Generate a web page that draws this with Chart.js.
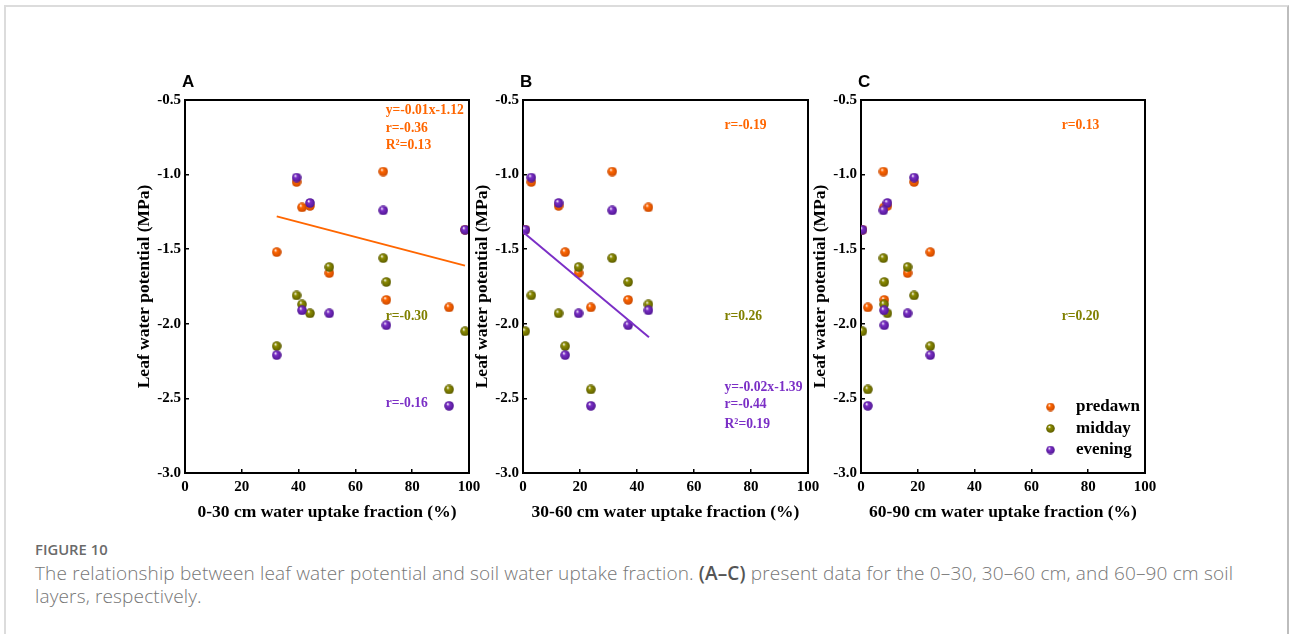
<!DOCTYPE html>
<html>
<head>
<meta charset="utf-8">
<script src="https://cdn.jsdelivr.net/npm/chart.js@4.4.1/dist/chart.umd.min.js"></script>
<style>
  body { margin: 0; background: #fff; width: 1290px; height: 634px; overflow: hidden; position: relative; }
  .frame { position: absolute; left: 4px; top: 5px; width: 1281px; height: 700px;
           border: 2px solid #dcdcdc; border-right-color: #bdbdbd; border-bottom: none; }
  canvas { position: absolute; }
  .cap-head { position: absolute; left: 35px; top: 541px; font: 600 14.8px/16px "Open Sans"; color: #6a6a6a; }
  .cap { position: absolute; left: 35px; top: 562px; font: 300 19px/23px "Open Sans"; letter-spacing: 0.15px; color: #767676; white-space: nowrap; }
  .cap b { color: #555; font-weight: 600; }
</style>
</head>
<body>
<div class="frame"></div>
<canvas id="panelA" width="364" height="470" style="left:125px;top:60px"></canvas>
<canvas id="panelB" width="365" height="470" style="left:463px;top:60px"></canvas>
<canvas id="panelC" width="364" height="470" style="left:801px;top:60px"></canvas>
<div class="cap-head">FIGURE 10</div>
<div class="cap">The relationship between leaf water potential and soil water uptake fraction. <b>(A–C)</b> present data for the 0–30, 30–60 cm, and 60–90 cm soil<br>layers, respectively.</div>

<script>
// axis ticks
const xTicks = [0, 20, 40, 60, 80, 100];
const yTicks = [-3.0, -2.5, -2.0, -1.5, -1.0, -0.5];

// water uptake fraction (%) of each layer, one value per observation
const uptake0to30 = [32.3, 39.3, 41.2, 44.0, 50.8, 69.8, 70.9, 93.0, 98.6];
const uptake30to60 = [14.8, 2.9, 44.0, 12.5, 19.5, 31.3, 36.9, 23.8, 0.8];
const uptake60to90 = [24.4, 18.7, 8.1, 9.3, 16.4, 7.9, 8.2, 2.4, 0.5];

// leaf water potential (MPa)
const predawn = [-1.52, -1.05, -1.22, -1.21, -1.66, -0.98, -1.84, -1.89, -1.37];
const midday = [-2.15, -1.81, -1.87, -1.93, -1.62, -1.56, -1.72, -2.44, -2.05];
const evening = [-2.21, -1.02, -1.91, -1.19, -1.93, -1.24, -2.01, -2.55, -1.37];

// fitted lines (end points)
const fitAX = [32.3, 98.6];
const fitAY = [-1.28, -1.61];
const fitBX = [0.3, 44.2];
const fitBY = [-1.39, -2.09];

const serif = '"Liberation Serif", "Times New Roman", serif';
const ORANGE = '#ff6600';
const OLIVE = '#8c8c00';
const PURPLE = '#7b2fc6';

// little shaded balls, like the original markers
function ball(color, dark, size) {
  const c = document.createElement('canvas');
  c.width = size; c.height = size;
  const g = c.getContext('2d');
  const r = size / 2;
  const grad = g.createRadialGradient(r * 0.7, r * 0.6, r * 0.05, r, r, r);
  grad.addColorStop(0, '#ffffff');
  grad.addColorStop(0.3, color);
  grad.addColorStop(1, dark);
  g.fillStyle = grad;
  g.beginPath();
  g.arc(r, r, r - 0.2, 0, Math.PI * 2);
  g.fill();
  return c;
}

const series = [
  { label: 'predawn', values: predawn, color: ORANGE, dark: '#c84800', order: 3 },
  { label: 'midday', values: midday, color: OLIVE, dark: '#5a5a00', order: 2 },
  { label: 'evening', values: evening, color: PURPLE, dark: '#4e1590', order: 1 }
];
series.forEach(s => {
  s.ball = ball(s.color, s.dark, 10);
  s.legendBall = ball(s.color, s.dark, 9);
});

// frame, panel letter, r / equation notes and the legend
const panelDecor = {
  id: 'panelDecor',
  afterDraw(chart, args, opts) {
    const { ctx, chartArea: a, scales } = chart;
    ctx.save();
    ctx.strokeStyle = '#000';
    ctx.lineWidth = 2;
    ctx.beginPath();
    ctx.moveTo(a.left - 1, a.top);
    ctx.lineTo(a.right, a.top);
    ctx.lineTo(a.right, a.bottom + 1);
    ctx.stroke();

    ctx.fillStyle = '#000';
    ctx.font = 'bold 17px "Liberation Sans", Arial, sans-serif';
    ctx.textAlign = 'left';
    ctx.textBaseline = 'alphabetic';
    ctx.fillText(opts.letter, a.left - 3, a.top - 13);

    ctx.font = 'bold 13.6px ' + serif;
    ctx.textBaseline = 'middle';
    opts.notes.forEach(n => {
      ctx.fillStyle = n.color;
      ctx.fillText(n.text, scales.x.getPixelForValue(n.x), scales.y.getPixelForValue(n.y));
    });

    if (opts.legend) {
      ctx.font = 'bold 17px ' + serif;
      ctx.fillStyle = '#000';
      series.forEach((s, i) => {
        const y = a.bottom - 66 + i * 21.5;
        ctx.drawImage(s.legendBall, a.right - 99, y - 4.5);
        ctx.fillText(s.label, a.right - 69, y);
      });
    }
    ctx.restore();
  }
};

function makePanel(id, xs, letter, xTitle, notes, fit, legend) {
  const datasets = series.map(s => ({
    label: s.label,
    data: xs.map((x, i) => ({ x: x, y: s.values[i] })),
    pointStyle: s.ball,
    order: s.order,
    showLine: false
  }));
  if (fit) {
    datasets.push({
      label: 'fit',
      data: fit.x.map((x, i) => ({ x: x, y: fit.y[i] })),
      showLine: true,
      pointRadius: 0,
      borderColor: fit.color,
      borderWidth: 2,
      order: 0
    });
  }
  const tickFont = { family: serif, size: 15, weight: 'bold' };
  const titleFont = { family: serif, size: 17.5, weight: 'bold' };
  new Chart(document.getElementById(id), {
    type: 'scatter',
    data: { datasets: datasets },
    options: {
      responsive: false,
      animation: false,
      layout: { padding: { top: 40, right: 20, left: 0, bottom: 0 } },
      plugins: {
        legend: { display: false },
        tooltip: { enabled: false },
        panelDecor: { letter: letter, notes: notes, legend: legend }
      },
      scales: {
        x: {
          type: 'linear', min: 0, max: 100,
          afterBuildTicks: s => { s.ticks = xTicks.map(v => ({ value: v })); },
          afterFit: s => { s.height = 57; s.paddingLeft = 0; s.paddingRight = 0; },
          ticks: { font: tickFont, color: '#000', padding: 9, maxRotation: 0, autoSkip: false },
          grid: { drawOnChartArea: false, tickLength: -4, color: '#000', lineWidth: 1.5 },
          border: { color: '#000', width: 2 },
          title: { display: true, text: xTitle, font: titleFont, color: '#000', padding: { top: 0, bottom: 7 } }
        },
        y: {
          type: 'linear', min: -3, max: -0.5,
          afterBuildTicks: s => { s.ticks = yTicks.map(v => ({ value: v })); },
          afterFit: s => { s.width = 60; s.paddingTop = 0; s.paddingBottom = 0; },
          ticks: { font: tickFont, color: '#000', padding: 8, callback: v => v.toFixed(1) },
          grid: { drawOnChartArea: false, tickLength: -4, color: '#000', lineWidth: 1.5 },
          border: { color: '#000', width: 2 },
          title: { display: true, text: 'Leaf water potential (MPa)', font: titleFont, color: '#000', padding: { top: 9, bottom: 0 } }
        }
      }
    },
    plugins: [panelDecor]
  });
}

makePanel('panelA', uptake0to30, 'A', '0-30 cm water uptake fraction (%)', [
  { text: 'y=-0.01x-1.12', x: 70.7, y: -0.567, color: ORANGE },
  { text: 'r=-0.36', x: 70.7, y: -0.688, color: ORANGE },
  { text: 'R²=0.13', x: 70.7, y: -0.808, color: ORANGE },
  { text: 'r=-0.30', x: 70.7, y: -1.954, color: '#808000' },
  { text: 'r=-0.16', x: 70.7, y: -2.537, color: PURPLE }
], { x: fitAX, y: fitAY, color: ORANGE }, false);

makePanel('panelB', uptake30to60, 'B', '30-60 cm water uptake fraction (%)', [
  { text: 'r=-0.19', x: 70.7, y: -0.668, color: ORANGE },
  { text: 'r=0.26', x: 70.7, y: -1.954, color: '#808000' },
  { text: 'y=-0.02x-1.39', x: 70.7, y: -2.430, color: PURPLE },
  { text: 'r=-0.44', x: 70.7, y: -2.544, color: PURPLE },
  { text: 'R²=0.19', x: 70.7, y: -2.672, color: PURPLE }
], { x: fitBX, y: fitBY, color: PURPLE }, false);

makePanel('panelC', uptake60to90, 'C', '60-90 cm water uptake fraction (%)', [
  { text: 'r=0.13', x: 70.7, y: -0.668, color: ORANGE },
  { text: 'r=0.20', x: 70.7, y: -1.954, color: '#808000' }
], null, true);
</script>
</body>
</html>
